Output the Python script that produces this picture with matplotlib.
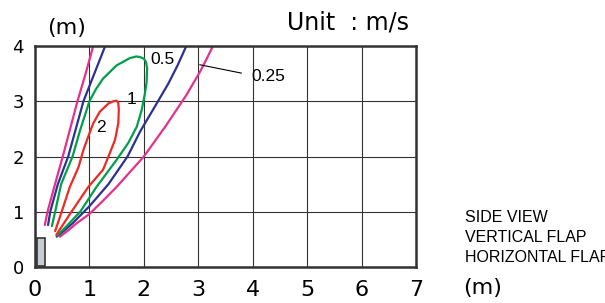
import numpy as np
import matplotlib.pyplot as plt
from matplotlib.patches import Rectangle

# contour lines (x, y in metres)
pink_left_x = [0.18, 0.23, 0.34, 0.51, 0.64, 0.78, 0.93, 1.07]
pink_left_y = [0.76, 1.0, 1.4, 2.0, 2.48, 3.0, 3.5, 4.0]
pink_right_x = [0.46, 0.62, 0.75, 1.0, 1.25, 1.5, 2.0, 2.4, 2.78, 3.03, 3.15, 3.27]
pink_right_y = [0.55, 0.67, 0.78, 0.96, 1.2, 1.45, 2.0, 2.55, 3.11, 3.53, 3.76, 4.0]

blue_left_x = [0.24, 0.28, 0.42, 0.61, 0.75, 0.89, 1.09, 1.29]
blue_left_y = [0.76, 1.0, 1.5, 2.0, 2.5, 3.0, 3.5, 4.0]
blue_right_x = [0.40, 0.55, 0.7, 1.0, 1.35, 1.7, 1.93, 2.2, 2.45, 2.62, 2.78]
blue_right_y = [0.55, 0.67, 0.8, 1.1, 1.5, 2.0, 2.45, 2.9, 3.32, 3.65, 4.0]

green_x = [0.31, 0.37, 0.48, 0.69, 0.83, 1.0, 1.12, 1.25, 1.50, 1.74, 1.86, 1.93,
           2.0, 2.04, 2.06, 2.05, 2.02, 1.96, 1.87, 1.71, 1.50, 1.13, 0.83, 0.60, 0.41]
green_y = [0.74, 1.0, 1.5, 2.0, 2.48, 3.0, 3.22, 3.41, 3.65, 3.78, 3.81, 3.8,
           3.77, 3.71, 3.6, 3.35, 3.14, 2.84, 2.54, 2.24, 1.94, 1.45, 1.0, 0.76, 0.57]

red_x = [0.37, 0.49, 0.64, 0.80, 0.89, 1.0, 1.07, 1.19, 1.35, 1.44, 1.50, 1.53, 1.54,
         1.53, 1.47, 1.35, 1.25, 0.98, 0.67, 0.39]
red_y = [0.65, 1.0, 1.45, 1.81, 2.12, 2.42, 2.6, 2.81, 2.96, 3.0, 3.01, 2.97, 2.85,
         2.6, 2.3, 2.0, 1.76, 1.45, 1.0, 0.58]

labels = ["0.5", "1", "2", "0.25"]
label_x = [2.34, 1.78, 1.22, 4.28]
label_y = [3.76, 3.03, 2.53, 3.44]

PINK = "#e6308a"
BLUE = "#2e3192"
GREEN = "#00a04b"
RED = "#ee2a24"

fig = plt.figure(figsize=(6.05, 3.03), dpi=100)
ax = fig.add_axes([35 / 605, 36 / 303, 381 / 605, 221 / 303])

ax.set_xlim(0, 7)
ax.set_ylim(0, 4)
ax.set_xticks(range(8))
ax.set_yticks(range(5))
ax.grid(True, color="#333333", lw=0.8)
ax.set_axisbelow(True)
for s in ax.spines.values():
    s.set_linewidth(1.8)
    s.set_color("#333333")
ax.tick_params(axis="both", length=0)
ax.tick_params(axis="x", labelsize=16, pad=9)
ax.tick_params(axis="y", labelsize=13, pad=8)

lw = 1.6
style = dict(lw=lw, solid_joinstyle="round", solid_capstyle="round")
ax.plot(pink_left_x, pink_left_y, color=PINK, **style)
ax.plot(pink_right_x, pink_right_y, color=PINK, **style)
ax.plot(blue_left_x, blue_left_y, color=BLUE, **style)
ax.plot(blue_right_x, blue_right_y, color=BLUE, **style)
ax.plot(green_x, green_y, color=GREEN, **style)
ax.plot(red_x, red_y, color=RED, **style)

# little unit box at the origin
ax.add_patch(Rectangle((0.04, 0.02), 0.15, 0.51, facecolor="#c8cbd0",
                       edgecolor="#333333", lw=1.2, zorder=3))

for t, x, y in zip(labels, label_x, label_y):
    ax.text(x, y, t, fontsize=12.5, family="Liberation Sans", ha="center", va="center")
ax.plot([3.03, 3.79], [3.66, 3.51], color="black", lw=0.8)

fig.text(67 / 605, 1 - 28 / 303, "(m)", fontsize=16, ha="center", va="center")
fig.text(287 / 605, 1 - 30 / 303, "Unit  : m/s", fontsize=17, ha="left", va="baseline")

side = ["SIDE VIEW", "VERTICAL FLAP", "HORIZONTAL FLAP"]
for i, t in enumerate(side):
    fig.text(465 / 605, 1 - (221.6 + 20 * i) / 303, t, fontsize=11.5,
             family="Liberation Sans", ha="left", va="baseline")
fig.text(463 / 605, 1 - 288 / 303, "(m)", fontsize=16, ha="left", va="center")

fig.savefig("out.png", dpi=100)
